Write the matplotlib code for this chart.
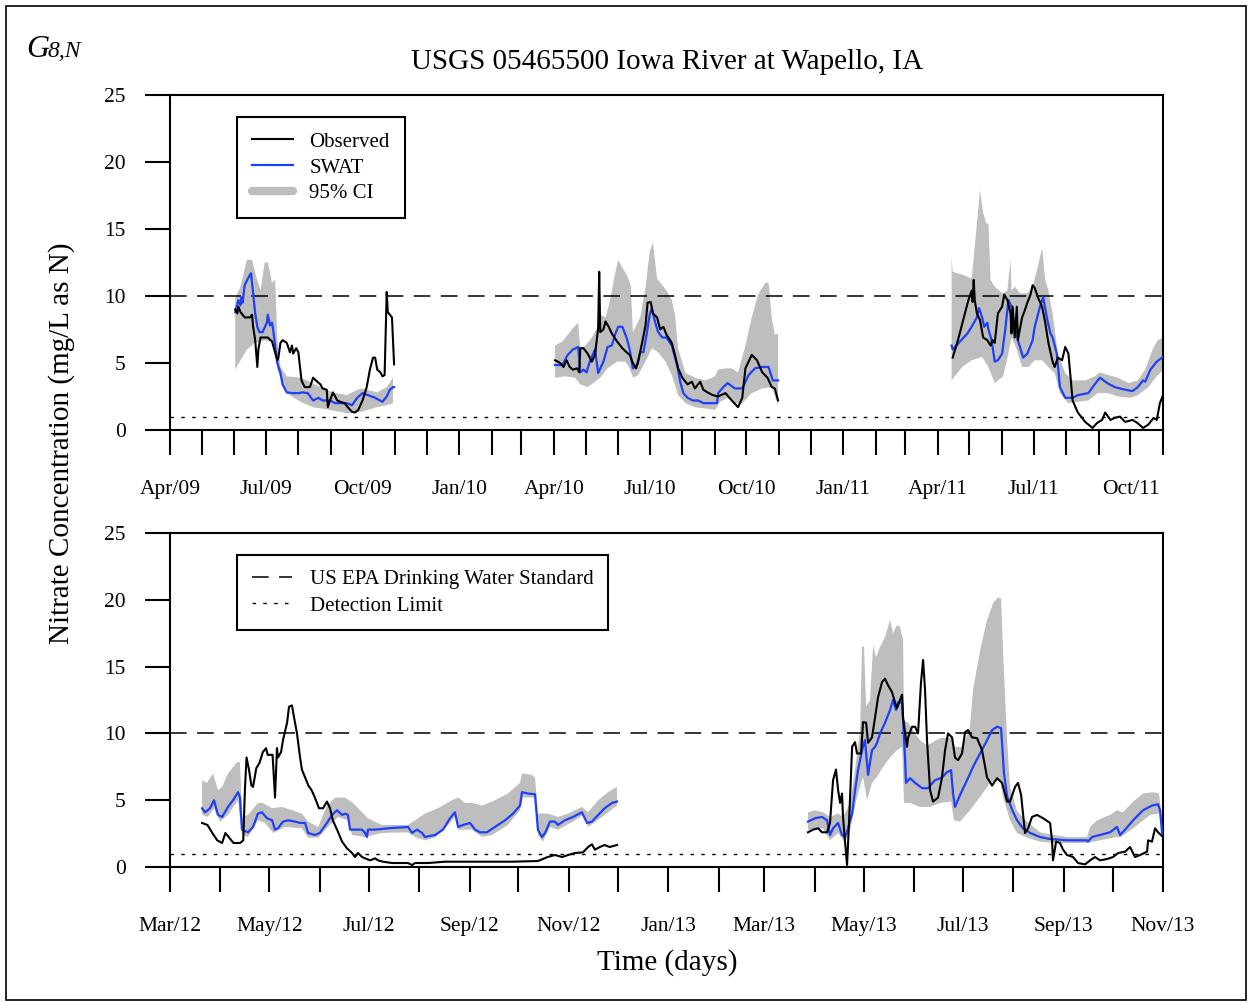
import numpy as np
import pandas as pd
import matplotlib
matplotlib.use('Agg')
import matplotlib.pyplot as plt
import matplotlib.dates as mdates
from matplotlib.lines import Line2D
from matplotlib.patches import Rectangle

plt.rcParams['font.family'] = ['Liberation Serif', 'DejaVu Serif']
plt.rcParams['lines.scale_dashes'] = False

BLUE = '#1f40f5'
GRAY = '#bebebe'

# ---------------- top panel (days since 2009-04-01) ----------------
top_start = '2009-04-01'
top_end = '2011-11-01'

obs_a_days = [62, 64, 65, 67, 68, 71, 76, 78, 79, 81, 83, 84, 86, 88, 93, 97, 102, 103, 105, 107,
              111, 114, 116, 117, 120, 122, 125, 128, 133, 136, 140, 143, 145, 149, 150, 152, 155, 159, 162, 166,
              169, 173, 176, 179, 183, 187, 190, 193, 195, 197, 200, 202, 204, 206, 207, 211, 213]
obs_a_vals = [9.0, 8.7, 9.2, 8.8, 8.7, 8.4, 8.4, 8.6, 7.7, 6.7, 4.7, 6.0, 6.9, 6.9, 6.9, 6.6, 5.2, 5.4, 6.5, 6.7,
              6.5, 5.8, 6.3, 5.7, 6.1, 5.8, 3.7, 3.2, 3.2, 3.9, 3.6, 3.4, 3.1, 3.0, 1.7, 2.2, 2.8, 2.2, 2.1, 2.0,
              1.7, 1.35, 1.3, 1.5, 2.2, 3.2, 4.5, 5.4, 5.4, 4.5, 4.3, 4.0, 4.1, 10.3, 8.8, 8.4, 4.9]
swat_a_days = [62, 65, 67, 68, 69, 71, 74, 77, 79, 81, 83, 85, 88, 92, 93, 95, 97, 98, 102, 105,
               107, 111, 117, 122, 126, 131, 136, 141, 145, 152, 157, 162, 168, 173, 178, 183, 188, 195, 202, 206,
               209, 212, 213]
swat_a_vals = [8.8, 9.7, 9.3, 9.9, 9.5, 10.8, 11.3, 11.7, 10.2, 8.7, 7.7, 7.3, 7.3, 8.0, 8.6, 7.8, 8.0, 7.5, 5.0, 4.25,
               3.4, 2.8, 2.75, 2.75, 2.8, 2.75, 2.2, 2.4, 2.2, 2.2, 2.0, 2.0, 2.0, 1.85, 2.4, 2.75, 2.6, 2.4, 2.1, 2.5,
               3.0, 3.2, 3.2]
ci_a_hi_days = [62, 67, 73, 78, 81, 86, 90, 93, 97, 100, 102, 105, 111, 124, 130, 143, 155, 168, 178, 183, 197, 206, 212]
ci_a_hi_vals = [9.85, 10.7, 12.7, 12.7, 11.7, 10.4, 12.5, 12.5, 11.0, 11.2, 6.7, 4.7, 4.0, 3.9, 3.7, 3.2, 2.8, 2.6,
                3.0, 3.1, 2.8, 3.2, 3.9]
ci_a_lo_days = [62, 67, 73, 81, 90, 100, 102, 111, 124, 136, 152, 168, 181, 197, 206, 212]
ci_a_lo_vals = [4.5, 5.2, 6.0, 6.5, 6.7, 6.5, 4.5, 2.75, 2.1, 1.7, 1.5, 1.25, 1.35, 1.7, 1.85, 2.0]

obs_b_days = [366, 371, 374, 377, 380, 383, 387, 389, 390, 393, 397, 401, 404, 407, 408, 409, 412, 414, 417, 420,
              425, 430, 434, 437, 440, 443, 445, 449, 452, 454, 457, 459, 463, 466, 469, 472, 477, 480, 483, 487,
              490, 492, 496, 499, 504, 507, 511, 516, 521, 528, 534, 540, 544, 547, 553, 558, 563, 568, 572, 575, 578]
obs_b_vals = [5.2, 5.0, 4.7, 5.2, 4.7, 4.5, 4.6, 4.3, 6.1, 6.1, 5.7, 5.1, 5.6, 7.6, 11.8, 7.3, 7.5, 8.1, 7.7, 7.2,
              6.6, 6.1, 5.8, 5.6, 5.0, 4.6, 5.1, 6.6, 7.8, 9.5, 9.55, 8.7, 8.4, 7.5, 7.7, 7.1, 6.5, 5.6, 4.6, 3.9,
              3.6, 3.4, 3.6, 3.1, 3.6, 3.0, 2.8, 2.6, 2.5, 2.75, 2.2, 1.7, 2.4, 4.6, 5.6, 5.2, 4.3, 3.9, 3.2, 3.1, 2.2]
swat_b_days = [366, 373, 378, 383, 388, 390, 393, 396, 399, 404, 407, 412, 416, 420, 423, 426, 430, 434, 437, 440,
               444, 447, 450, 453, 456, 458, 461, 464, 468, 472, 477, 482, 485, 488, 492, 497, 502, 507, 515, 520,
               521, 526, 530, 537, 544, 550, 556, 563, 569, 573, 578]
swat_b_vals = [4.85, 4.85, 5.6, 6.0, 6.2, 4.3, 4.5, 4.3, 5.1, 6.0, 4.25, 5.1, 6.2, 6.3, 7.1, 7.7, 7.7, 6.9, 6.0, 4.6,
               4.85, 5.8, 5.8, 7.1, 8.6, 9.1, 8.1, 7.3, 6.9, 6.9, 6.3, 4.85, 3.6, 2.75, 2.4, 2.2, 2.2, 2.0, 2.0, 2.0,
               2.75, 3.2, 3.5, 3.1, 3.1, 4.1, 4.6, 4.7, 4.7, 3.7, 3.7]
ci_b_hi_days = [366, 373, 378, 383, 388, 390, 395, 401, 406, 409, 414, 418, 423, 426, 430, 434, 438, 440, 447, 452,
                456, 459, 463, 468, 472, 477, 480, 483, 490, 499, 509, 518, 521, 528, 534, 540, 547, 553, 559, 566,
                569, 572, 575, 578]
ci_b_hi_vals = [6.3, 6.6, 7.1, 7.6, 8.0, 6.1, 6.3, 6.9, 7.6, 8.6, 8.4, 9.55, 11.6, 12.7, 12.1, 11.6, 10.8, 7.3, 8.4, 10.6,
                13.3, 14.0, 11.3, 10.8, 10.4, 9.7, 8.6, 6.1, 4.25, 3.9, 3.7, 4.0, 4.5, 4.6, 4.6, 4.3, 6.3, 8.4, 10.1, 11.0,
                11.0, 8.4, 7.1, 7.2]
ci_b_lo_days = [366, 376, 385, 390, 397, 404, 409, 416, 425, 433, 437, 440, 445, 452, 458, 464, 471, 477, 483, 490,
                499, 509, 518, 523, 530, 537, 544, 553, 563, 572, 578]
ci_b_lo_vals = [3.9, 4.0, 3.9, 3.4, 3.2, 3.6, 3.9, 4.6, 5.1, 5.1, 4.6, 3.9, 4.1, 5.1, 6.1, 5.8, 5.1, 4.1, 2.6, 2.0,
                1.7, 1.6, 1.5, 2.1, 2.4, 2.0, 2.0, 2.75, 3.1, 3.2, 1.85]

obs_c_days = [744, 749, 754, 759, 762, 763, 764, 765, 767, 770, 773, 777, 780, 782, 784, 787, 791, 793, 796, 799,
              800, 801, 803, 805, 806, 810, 812, 815, 818, 820, 822, 825, 829, 832, 835, 839, 841, 844, 848, 851,
              854, 856, 858, 863, 870, 877, 881, 886, 889, 894, 898, 903, 908, 915, 920, 925, 930, 935, 938, 941, 944]
obs_c_vals = [5.4, 6.7, 8.2, 9.7, 10.4, 9.55, 11.2, 9.7, 8.7, 8.2, 6.9, 6.7, 6.3, 6.7, 6.5, 8.7, 9.2, 10.1, 9.7, 8.7,
              7.2, 9.2, 6.9, 9.2, 6.7, 8.4, 8.8, 9.5, 10.1, 10.8, 10.6, 9.9, 9.2, 8.0, 6.5, 5.1, 4.7, 5.4, 5.2, 6.2,
              5.7, 4.0, 2.2, 1.3, 0.6, 0.15, 0.5, 0.75, 1.3, 0.75, 0.9, 1.0, 0.6, 0.75, 0.5, 0.15, 0.4, 0.9, 0.75, 2.0, 2.6]
swat_c_days = [743, 744, 751, 758, 762, 767, 769, 772, 774, 777, 778, 781, 784, 787, 791, 794, 797, 800, 803, 806,
               811, 815, 820, 822, 827, 830, 834, 837, 839, 843, 846, 851, 858, 863, 873, 879, 884, 891, 898, 908,
               915, 920, 925, 927, 932, 938, 944]
swat_c_vals = [6.3, 6.0, 6.6, 7.2, 7.7, 8.4, 9.1, 8.4, 7.7, 8.0, 7.5, 6.7, 5.1, 5.2, 5.7, 7.5, 9.7, 9.2, 7.7, 6.7,
               5.4, 5.7, 6.7, 7.7, 9.2, 9.9, 8.2, 7.2, 6.9, 5.7, 3.2, 2.4, 2.4, 2.6, 2.75, 3.4, 3.9, 3.5, 3.2, 3.0,
               2.9, 3.2, 3.7, 3.6, 4.5, 5.1, 5.45]
ci_c_hi_days = [743, 744, 753, 762, 765, 770, 773, 776, 778, 780, 784, 791, 796, 799, 800, 803, 808, 815, 820, 825,
                829, 832, 835, 839, 841, 844, 851, 858, 870, 879, 884, 892, 901, 911, 920, 927, 934, 939, 944]
ci_c_hi_vals = [12.9, 11.8, 11.6, 11.3, 13.7, 17.9, 16.2, 15.4, 15.4, 11.2, 10.7, 10.2, 10.4, 12.7, 10.4, 10.7, 10.2,
                10.2, 10.7, 12.2, 13.6, 11.2, 10.4, 8.7, 7.5, 5.7, 4.25, 3.7, 3.7, 4.0, 4.3, 4.1, 3.9, 3.5, 3.7, 4.5,
                6.0, 6.7, 6.9]
ci_c_lo_days = [743, 753, 762, 772, 778, 784, 792, 797, 800, 805, 810, 816, 822, 829, 835, 841, 846, 854, 863, 873,
                882, 892, 901, 913, 920, 930, 938, 944]
ci_c_lo_vals = [3.7, 4.7, 5.2, 5.45, 4.7, 3.5, 4.0, 5.7, 6.9, 6.0, 4.7, 4.7, 5.2, 5.2, 4.7, 4.25, 2.75, 2.0, 2.1, 2.2,
                2.75, 2.75, 2.5, 2.4, 2.6, 3.2, 4.0, 4.5]

# ---------------- bottom panel (days since 2012-03-01) ----------------
bot_start = '2012-03-01'
bot_end = '2013-11-01'

obs_d_days = [19.7, 23, 26, 29, 32, 34, 36, 39, 43, 45, 46, 47, 48.5, 50, 51, 53, 55, 57, 59, 60,
              63, 64.5, 65.7, 66.3, 68.2, 69.4, 71.9, 73.1, 74.9, 76.2, 78, 79.9, 81, 83, 85, 87, 89, 91.5, 94, 96.4,
              98.3, 100, 102.6, 105.7, 108.7, 111.8, 113.6, 115.5, 118, 119.8, 122.9, 126, 127.8, 130.8, 136.4,
              146.2, 148.7, 150.5, 158.5, 169, 179, 189, 210, 226, 232, 236.5, 240.8, 244.5, 248.8, 253.7,
              256.8, 259.2, 261, 264, 267, 270, 274.6]
obs_d_vals = [3.3, 3.15, 2.55, 2.0, 1.8, 2.55, 2.25, 1.8, 1.8, 2.0, 5.75, 8.2, 7.3, 6.1, 6.0, 7.4, 7.8, 8.6, 8.9, 8.4,
              8.4, 5.2, 8.9, 8.2, 8.6, 9.5, 10.8, 12.0, 12.1, 11.2, 10.0, 8.2, 7.3, 6.7, 6.1, 5.75, 5.2, 4.4, 4.4, 4.9,
              4.4, 3.5, 2.8, 1.9, 1.4, 1.05, 0.75, 1.05, 0.75, 0.65, 0.5, 0.65, 0.5, 0.4, 0.3,
              0.3, 0.15, 0.3, 0.3, 0.4, 0.4, 0.4, 0.4, 0.45, 0.75, 0.9, 0.75, 0.9, 1.05, 1.1,
              1.5, 1.7, 1.3, 1.5, 1.65, 1.5, 1.65]
swat_d_days = [19.7, 21.5, 24.6, 27, 29.5, 32, 35.6, 38.7, 41.8, 43, 44.2, 47.9, 51, 54, 56.5, 59.6, 62.7, 64.5, 66.3, 69.4,
               72.5, 76.8, 79.9, 83, 84.8, 89, 92, 96.4, 99.5, 102.6, 105.7, 107.5, 109.3, 110.6, 113.6, 118, 119.8, 121,
               121.6, 126, 134, 146.2, 148.7, 151.7, 154.8, 156.6, 162.8, 167.7, 172, 175, 177, 180, 184.3, 187.4,
               190.4, 194.7, 199.6, 205.8, 210.7, 215, 216.2, 220, 224.2, 226, 228.5, 230.4, 233.4, 236.5, 238.3,
               242.6, 247.6, 253, 256.2, 259.2, 263, 267, 271.5, 274.6]
swat_d_vals = [4.4, 4.1, 4.4, 5.0, 3.9, 3.75, 4.5, 5.0, 5.6, 5.2, 2.8, 2.6, 3.0, 4.0, 4.1, 3.65, 3.5, 2.8, 2.9, 3.4,
               3.5, 3.4, 3.3, 3.3, 2.55, 2.4, 2.55, 3.3, 3.9, 4.25, 3.9, 4.0, 3.9, 2.8, 2.8, 2.8, 2.55, 2.25,
               2.8, 2.8, 2.9, 3.0, 2.55, 2.8, 2.55, 2.25, 2.4, 2.8, 3.65, 4.1, 3.0, 3.15, 3.3, 2.8,
               2.6, 2.6, 3.0, 3.5, 4.0, 4.6, 5.6, 5.5, 5.45, 2.8, 2.25, 2.55, 3.4, 3.4, 3.15,
               3.5, 3.75, 4.1, 3.3, 3.4, 3.9, 4.4, 4.8, 4.9]
ci_d_hi_days = [19.7, 22.7, 26.4, 29.5, 32, 35.6, 41.2, 43, 44.2, 47.9, 54, 57, 62.7, 68.8, 75, 81, 84.8, 91, 96.4, 101.4,
                107.5, 112.4, 118, 121.6, 130.2, 146.2, 150.5, 156.6, 164.6, 173.2, 177, 181.2, 185.5, 191.7, 199.6,
                207.6, 215, 216.2, 222.4, 224.2, 226, 232.2, 238.3, 244.5, 253, 256.8, 263, 269, 274.6]
ci_d_hi_vals = [6.5, 6.3, 7.0, 5.75, 6.0, 7.0, 7.85, 7.85, 3.75, 3.9, 4.8, 4.8, 4.4, 4.5, 4.25, 4.0, 3.4, 3.0, 4.6, 5.2,
                5.2, 4.8, 4.1, 3.65, 3.15, 3.15, 3.5, 4.0, 4.4, 5.0, 5.2, 4.8, 4.8, 4.6, 5.0,
                5.5, 6.3, 7.0, 6.9, 6.7, 4.0, 4.0, 3.75, 4.0, 4.5, 4.1, 5.0, 5.6, 6.0]
ci_d_lo_days = [19.7, 23.3, 27, 30.7, 35.6, 41.8, 44.2, 47.9, 54, 58.4, 63.3, 70.6, 81, 84.8, 91, 97, 103.2, 109.3, 111.8,
                119.8, 130.2, 146.2, 150.5, 156.6, 162.8, 170.8, 175, 177, 185.5, 191.7, 197.8, 207.6, 215, 216.8,
                224.2, 226, 229, 233.4, 238.3, 247.6, 253.7, 256.8, 265.4, 274.6]
ci_d_lo_vals = [3.9, 3.75, 4.4, 3.4, 3.9, 5.0, 2.4, 2.25, 3.5, 3.3, 2.55, 3.0, 2.9, 2.2, 2.2, 3.0, 3.75, 3.5, 2.4,
                2.25, 2.55, 2.6, 2.25, 2.0, 2.2, 3.15, 3.75, 2.8, 2.8, 2.25, 2.4, 3.15, 4.25, 5.2,
                5.2, 2.4, 1.9, 3.0, 2.8, 3.4, 3.9, 3.0, 3.75, 4.6]

obs_e_days = [391.9, 395.0, 398.1, 400.5, 403.6, 405.4, 407.3, 409.1, 410.4, 411.6, 412.8, 413.4, 414.7, 415.9, 417.1,
              419.0, 420.8, 422.0, 424.5, 425.7, 427.6, 428.8, 431.2, 433.1, 434.9, 437.4, 439.2, 441.1, 443.5, 445.4,
              446.6, 448.4, 449.7, 450.3, 452.7, 453.4, 455.8, 457.7, 459.5, 461.3, 462.6, 463.8, 465.0, 466.9, 468.7,
              471.8, 474.2, 476.1, 477.9, 480.4, 482.2, 484.1, 486.5, 488.4, 490.2, 492.7, 495.7, 498.8, 501.9, 505.0,
              508.0, 511.1, 514.2, 516.0, 519.1, 520.9, 522.8, 525.2, 527.1, 529.5, 532.6, 536.3, 540.6, 541.8, 542.4,
              544.3, 546.7, 548.6, 551.0, 554.7, 557.8, 562.1, 565.2, 568.2, 571.3, 575.6, 579.3, 582.4, 586.7, 589.7,
              592.8, 595.9, 600.2, 600.8, 603.2, 605.1, 606.9, 610.0]
obs_e_vals = [2.6, 2.8, 2.9, 2.6, 2.6, 3.3, 6.5, 7.3, 5.75, 4.8, 5.5, 3.75, 1.8, 0.15, 3.3,
              9.0, 9.35, 8.5, 8.5, 10.85, 10.8, 9.3, 9.7, 11.2, 12.7, 13.85, 14.1, 13.6, 13.1, 12.3,
              11.9, 12.5, 12.9, 11.2, 9.0, 9.7, 10.5, 10.5, 10.0, 13.8, 15.5, 13.25, 9.5, 5.75, 4.9,
              5.2, 6.7, 8.75, 10.0, 9.7, 8.2, 8.0, 8.5, 10.1, 10.25, 9.7, 9.65, 8.75, 6.7, 6.1,
              6.65, 6.3, 4.9, 4.9, 6.0, 6.3, 5.4, 2.55, 2.9, 3.75, 3.9, 3.65, 3.3, 2.0, 0.5,
              1.9, 1.8, 1.3, 0.9, 0.75, 0.3, 0.2, 0.5, 0.75, 0.5, 0.6, 0.75, 1.05, 1.15, 1.5,
              0.75, 0.9, 1.15, 2.0, 1.9, 2.9, 2.6, 2.25]
swat_e_days = [391.9, 396.2, 400.5, 403.6, 405.4, 407.3, 410.4, 412.8, 414.7, 416.5, 419.0, 420.8, 422.7, 425.1, 426.9,
               428.8, 431.2, 433.1, 434.3, 436.2, 439.2, 442.3, 444.1, 446.0, 447.2, 449.7, 451.5, 452.1, 454.6, 457.7,
               462.0, 465.6, 469.9, 474.2, 477.3, 479.8, 481.0, 482.2, 485.3, 489.6, 493.3, 497.6, 501.9, 505.0, 508.0,
               510.5, 512.3, 514.2, 517.2, 520.3, 524.0, 528.3, 534.4, 540.6, 551.0, 563.3, 563.9, 566.4, 571.3, 577.4,
               581.7, 583.6, 586.7, 591.6, 597.7, 603.2, 606.9, 608.2, 609.4, 610.0]
swat_e_vals = [3.4, 3.65, 3.75, 3.5, 2.4, 2.9, 3.3, 2.4, 2.25, 2.9, 4.0, 5.75, 7.3, 8.75, 9.5,
               6.9, 8.75, 9.0, 9.3, 10.0, 10.8, 11.75, 12.5, 11.75, 12.35, 12.3, 8.2, 6.3, 6.65, 6.3,
               5.9, 5.9, 6.5, 6.7, 7.1, 7.25, 5.5, 4.5, 5.4, 6.5, 7.5, 8.5, 9.5, 10.25, 10.5,
               10.4, 7.0, 5.3, 4.3, 3.5, 2.9, 2.55, 2.25, 2.1, 2.0, 2.0, 1.9, 2.25, 2.4, 2.6,
               3.0, 2.4, 2.8, 3.5, 4.25, 4.6, 4.7, 4.25, 2.55, 2.25]
ci_e_hi_days = [391.9, 396.2, 401.1, 405.4, 410.4, 413.4, 417.8, 420.8, 423.9, 425.1, 426.3, 427.6, 430.0, 431.9, 433.7,
                436.2, 439.2, 442.3, 444.1, 446.6, 448.4, 450.3, 450.9, 453.4, 457.7, 460.7, 465.0, 468.7, 473.0, 477.3,
                480.4, 482.2, 487.1, 491.4, 493.3, 497.6, 501.9, 505.6, 508.6, 510.5, 511.7, 514.2, 516.0, 520.3, 526.5,
                534.4, 542.4, 551.0, 563.3, 565.2, 569.5, 577.4, 581.7, 585.4, 591.6, 597.7, 603.9, 607.5, 610.0]
ci_e_hi_vals = [4.1, 4.25, 4.1, 3.75, 4.0, 3.75, 4.8, 7.3, 10.25, 16.5, 16.5, 12.0, 12.5, 16.6, 15.7,
                16.5, 17.2, 18.5, 17.5, 18.1, 18.0, 17.0, 11.0, 10.8, 10.0, 9.5, 9.1, 9.35, 9.65, 9.7,
                9.7, 9.0, 9.0, 10.5, 13.25, 16.2, 18.5, 19.75, 20.2, 20.1, 16.2, 9.5, 6.0, 4.2, 3.4,
                2.6, 2.4, 2.25, 2.25, 3.0, 3.5, 3.9, 4.25, 4.1, 4.9, 5.5, 5.6, 5.5, 2.6]
ci_e_lo_days = [391.9, 397.5, 401.1, 405.4, 410.4, 414.7, 417.8, 422.0, 425.7, 428.2, 431.2, 434.3, 438.0, 442.3, 446.6,
                449.7, 450.9, 454.6, 460.7, 466.9, 473.0, 479.8, 481.6, 485.3, 491.4, 497.6, 503.7, 509.9, 511.7, 516.0,
                520.3, 526.5, 534.4, 542.4, 563.3, 571.3, 581.7, 583.6, 591.6, 602.0, 607.5, 610.0]
ci_e_lo_vals = [2.8, 2.8, 2.9, 2.0, 2.55, 1.8, 2.8, 5.25, 6.75, 5.0, 6.3, 6.75, 7.5, 8.2, 8.75,
                9.0, 4.8, 4.8, 4.5, 4.5, 4.8, 4.9, 3.5, 3.4, 4.25, 5.25, 6.3, 6.5, 5.25, 3.5,
                2.55, 2.2, 1.9, 1.8, 1.8, 2.0, 2.25, 2.2, 2.9, 3.9, 4.0, 2.0]

epa_limit = 10.0
detection_limit = 1.0


def when(start, days):
    t = pd.Timestamp(start) + pd.to_timedelta(np.asarray(days, float), unit='D')
    return mdates.date2num(t.to_pydatetime())


def draw_segment(ax, start, obs, swat, hi, lo):
    hx, lx = when(start, hi[0]), when(start, lo[0])
    ax.fill(np.concatenate([hx, lx[::-1]]), np.concatenate([hi[1], lo[1][::-1]]),
            color=GRAY, lw=0, zorder=1)
    ax.plot(when(start, swat[0]), swat[1], color=BLUE, lw=1.6, zorder=3)
    ax.plot(when(start, obs[0]), obs[1], color='black', lw=1.5, zorder=4)


def style_axes(ax, start, end, every):
    months = pd.date_range(start, end, freq='MS')
    xs = mdates.date2num(months.to_pydatetime())
    ax.set_xlim(xs[0], xs[-1])
    ax.set_xticks(xs)
    ax.set_xticklabels([m.strftime('%b/%y') if i % every == 0 else '' for i, m in enumerate(months)])
    ax.set_ylim(0, 25)
    ax.set_yticks([0, 5, 10, 15, 20, 25])
    ax.tick_params(axis='both', length=18, width=1.5, labelsize=15.5, direction='out')
    ax.tick_params(axis='x', pad=18)
    ax.tick_params(axis='y', pad=14)
    for s in ax.spines.values():
        s.set_linewidth(1.5)
    ax.axhline(epa_limit, color='black', lw=1.1, dashes=(12, 7.5), zorder=2)
    ax.axhline(detection_limit, color='black', lw=1.0, dashes=(2.5, 5.3), zorder=2)


fig = plt.figure(figsize=(12.51, 10.02), dpi=100)
ax1 = fig.add_axes([0.1359, 0.5709, 0.7938, 0.3343])
ax2 = fig.add_axes([0.1359, 0.1347, 0.7938, 0.3333])

draw_segment(ax1, top_start, (obs_a_days, obs_a_vals), (swat_a_days, swat_a_vals),
             (ci_a_hi_days, ci_a_hi_vals), (ci_a_lo_days, ci_a_lo_vals))
draw_segment(ax1, top_start, (obs_b_days, obs_b_vals), (swat_b_days, swat_b_vals),
             (ci_b_hi_days, ci_b_hi_vals), (ci_b_lo_days, ci_b_lo_vals))
draw_segment(ax1, top_start, (obs_c_days, obs_c_vals), (swat_c_days, swat_c_vals),
             (ci_c_hi_days, ci_c_hi_vals), (ci_c_lo_days, ci_c_lo_vals))
draw_segment(ax2, bot_start, (obs_d_days, obs_d_vals), (swat_d_days, swat_d_vals),
             (ci_d_hi_days, ci_d_hi_vals), (ci_d_lo_days, ci_d_lo_vals))
draw_segment(ax2, bot_start, (obs_e_days, obs_e_vals), (swat_e_days, swat_e_vals),
             (ci_e_hi_days, ci_e_hi_vals), (ci_e_lo_days, ci_e_lo_vals))

style_axes(ax1, top_start, top_end, 3)
style_axes(ax2, bot_start, bot_end, 2)

h1 = [Line2D([], [], color='black', lw=1.5),
      Line2D([], [], color=BLUE, lw=1.6),
      Line2D([], [], color=GRAY, lw=6, solid_capstyle='round')]
leg1 = ax1.legend(h1, ['Observed', 'SWAT', '95% CI'], loc='upper left', bbox_to_anchor=(0.0675, 0.934),
                  borderaxespad=0, fontsize=15, fancybox=False, edgecolor='black', framealpha=1,
                  handlelength=1.95, handletextpad=0.8, borderpad=0.72, labelspacing=0.3)
leg1.get_frame().set_linewidth(1.5)

h2 = [Line2D([], [], color='black', lw=1.1, dashes=(12, 7.5)),
      Line2D([], [], color='black', lw=1.0, dashes=(2.5, 5.3))]
leg2 = ax2.legend(h2, ['US EPA Drinking Water Standard', 'Detection Limit'], loc='upper left',
                  bbox_to_anchor=(0.0675, 0.934), borderaxespad=0, fontsize=15, fancybox=False,
                  edgecolor='black', framealpha=1, handlelength=1.95, handletextpad=0.85,
                  borderpad=0.7, labelspacing=0.32)
leg2.get_frame().set_linewidth(1.5)

fig.text(667 / 1251, 1 - 62 / 1002, 'USGS 05465500 Iowa River at Wapello, IA', ha='center', va='center', fontsize=21)
fig.text(62 / 1251, 1 - 443 / 1002, 'Nitrate Concentration (mg/L as N)', rotation=90, ha='center', va='center',
         fontsize=21)
fig.text(667 / 1251, 1 - 963 / 1002, 'Time (days)', ha='center', va='center', fontsize=21)
fig.text(26 / 1251, 1 - 57 / 1002, 'G', style='italic', fontsize=23, va='baseline')
fig.text(47 / 1251, 1 - 57 / 1002, '8,N', style='italic', fontsize=17, va='baseline')

fig.add_artist(Rectangle((6 / 1251, 2 / 1002), 1240 / 1251, 994 / 1002, transform=fig.transFigure,
                         fill=False, edgecolor='black', lw=1.2))

fig.savefig('out.png', dpi=100)
